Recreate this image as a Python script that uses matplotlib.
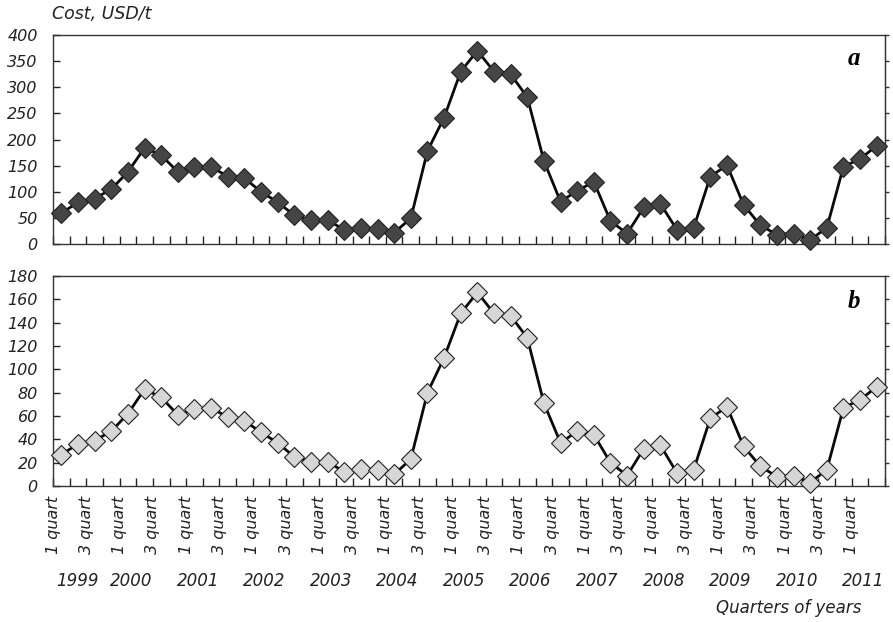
import matplotlib
matplotlib.use("Agg")
import matplotlib.pyplot as plt
import matplotlib.transforms as mtransforms
import numpy as np

# quarterly values, 1999 Q1 .. 2011 Q2
cost_a = [59, 80, 87, 105, 138, 184, 170, 138, 148, 148, 129, 126, 100, 80, 55,
          45, 46, 27, 30, 28, 22, 49, 178, 242, 330, 370, 330, 325, 281, 159,
          81, 102, 119, 44, 20, 70, 77, 27, 31, 129, 151, 75, 36, 18, 20,
          8, 31, 148, 163, 188]
cost_b = [27, 36, 39, 47, 62, 83, 76, 61, 66, 67, 59, 56, 46, 37, 25,
          21, 21, 12, 15, 14, 10, 23, 80, 110, 148, 166, 148, 146, 127, 71,
          37, 47, 44, 20, 9, 32, 35, 11, 14, 58, 68, 34, 17, 8, 9,
          3, 14, 67, 74, 85]
years = ["1999", "2000", "2001", "2002", "2003", "2004", "2005", "2006",
         "2007", "2008", "2009", "2010", "2011"]
quart_names = ["1 quart", "3 quart"]

plt.rcParams["font.family"] = "DejaVu Sans"
plt.rcParams["font.style"] = "italic"
plt.rcParams["font.size"] = 11.5
txt = "#222222"

n = len(cost_a)
x = np.arange(n) + 0.5
bounds = np.arange(n + 1)
xlabels = []
for k in bounds:
    if k % 2 == 0 and k <= n - 2:
        xlabels.append(quart_names[(k // 2) % 2])
    else:
        xlabels.append("")

fig = plt.figure(figsize=(8.93, 6.22), dpi=100)
ax1 = fig.add_axes([0.0594, 0.6077, 0.9317, 0.336])
ax2 = fig.add_axes([0.0594, 0.2186, 0.9317, 0.3376])


def style(ax, top, step):
    ax.set_xlim(0, n)
    ax.set_ylim(0, top)
    ax.set_xticks(bounds)
    ax.set_yticks(np.arange(0, top + 1, step))
    ax.tick_params(axis="x", direction="in", length=6, width=1, color="#222222")
    ax.tick_params(axis="y", direction="in", length=5, width=1, color="#222222",
                   labelcolor=txt, pad=11)
    for s in ax.spines.values():
        s.set_color("#333333")
        s.set_linewidth(1.0)
    sec = ax.secondary_yaxis("right")
    sec.set_yticks(np.arange(0, top + 1, step))
    sec.tick_params(direction="out", length=3, width=1, color="#333333")
    sec.set_yticklabels([])
    sec.spines["right"].set_color("#333333")


ax1.plot(x, cost_a, color="#0a0a0a", lw=2, marker="D", ms=9.8,
         mfc="#454545", mec="#222222", mew=0.8, clip_on=False, zorder=3)
style(ax1, 400, 50)
ax1.set_xticklabels([])
ax1.text(0.963, 0.89, "a", transform=ax1.transAxes, family="Liberation Serif",
         weight="bold", style="italic", fontsize=18, ha="center", va="center")
fig.text(0.058, 0.977, "Cost, USD/t", ha="left", va="center", color=txt,
         fontsize=12.5)

ax2.plot(x, cost_b, color="#0a0a0a", lw=2, marker="D", ms=9.8,
         mfc="#d6d6d6", mec="#222222", mew=0.8, clip_on=False, zorder=3)
style(ax2, 180, 20)
ax2.set_xticklabels(xlabels, rotation=90, color=txt)
ax2.tick_params(axis="x", pad=7)
ax2.text(0.963, 0.88, "b", transform=ax2.transAxes, family="Liberation Serif",
         weight="bold", style="italic", fontsize=18, ha="center", va="center")

trans = mtransforms.blended_transform_factory(ax2.transData, fig.transFigure)
for i, yr in enumerate(years):
    ax2.text(max(4 * i + 0.7, 1.45), 0.066, yr, transform=trans,
             ha="center", va="center", color=txt, fontsize=12)
fig.text(0.965, 0.022, "Quarters of years", ha="right", va="center", color=txt,
         fontsize=12)

fig.savefig("out.png", dpi=100)
